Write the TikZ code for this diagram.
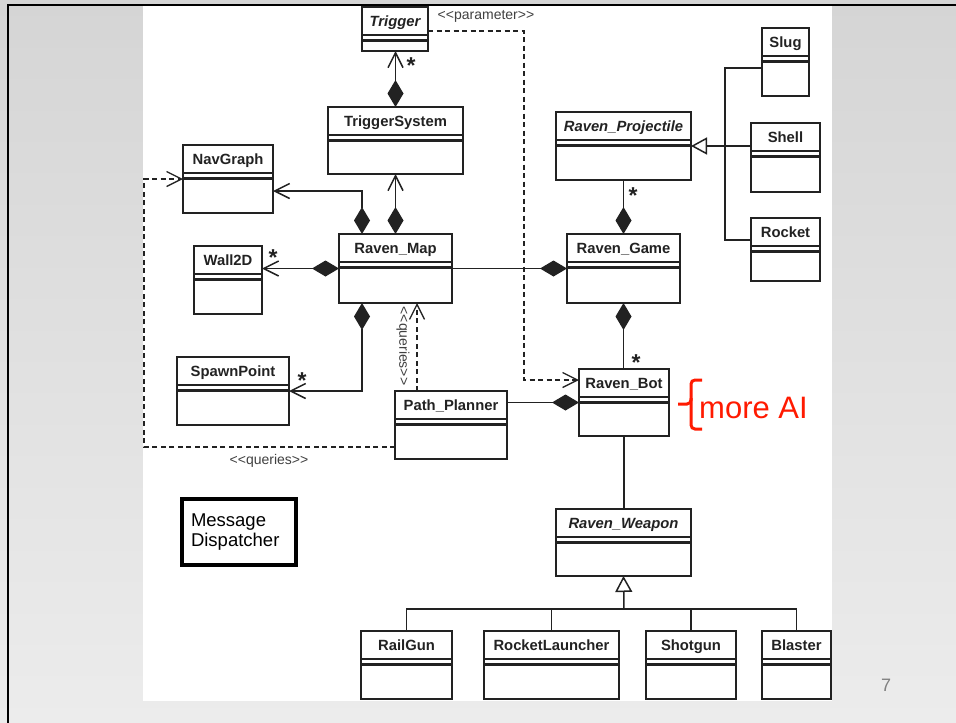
\documentclass[tikz,border=0pt]{standalone}
\usepackage{fontspec}
\setmainfont{Liberation Sans}
\usetikzlibrary{arrows.meta}

\definecolor{ink}{HTML}{222222}
\definecolor{notegray}{HTML}{404040}
\definecolor{bgtop}{HTML}{D5D5D5}
\definecolor{bgbot}{HTML}{ECECEC}
\definecolor{aired}{HTML}{FF1A00}

\begin{document}
\begin{tikzpicture}[x=1pt, y=-1pt,
    cls/.style = {draw=ink, line width=2.4pt, fill=white, anchor=north west, inner sep=0pt, outer sep=0pt,
        path picture={
            \draw[ink, line width=2.2pt] ([yshift=-28pt]path picture bounding box.north west) -- ([yshift=-28pt]path picture bounding box.north east);
            \draw[ink, line width=2.2pt] ([yshift=-33.5pt]path picture bounding box.north west) -- ([yshift=-33.5pt]path picture bounding box.north east);}},
    clsname/.style = {anchor=north, inner sep=0pt, minimum height=28pt, text height=12pt, text depth=2pt, text=ink, font=\bfseries\fontsize{14.8}{16}\selectfont},
    clsiname/.style = {clsname, font=\bfseries\itshape\fontsize{14.8}{16}\selectfont},
    line/.style = {draw=ink, line width=1.5pt},
    comp/.style = {line, arrows={Diamond[length=27pt,width=16pt]-Straight Barb[length=15pt,width=15pt]}},
    agg/.style = {line, arrows={Diamond[length=27pt,width=16pt]-}},
    gen/.style = {line, arrows={-Triangle[open,length=16pt,width=17pt,fill=white]}},
    dep/.style = {line, line width=1.3pt, dash pattern=on 5pt off 3.5pt, arrows={-Straight Barb[length=15pt,width=15pt]}},
    note/.style = {inner sep=0pt, text=notegray, font=\fontsize{14}{15}\selectfont},
    mult/.style = {inner sep=0pt, text=ink, font=\bfseries\fontsize{23}{23}\selectfont}]

    \useasboundingbox (0,0) rectangle (956,723);
    \shade[top color=bgtop, bottom color=bgbot] (0,0) rectangle (956,723);
    \fill[white] (143,6) rectangle (832,701);
    \draw[line width=2.5pt] (8,723) -- (8,5) -- (956,5);

    \node[cls, minimum width=66pt, minimum height=44pt] (trig) at (362,7) {};
    \node[clsiname] (trig-t) at (trig.north) {Trigger};
    \node[cls, minimum width=135pt, minimum height=67pt] (tsys) at (328,107) {};
    \node[clsname] (tsys-t) at (tsys.north) {TriggerSystem};
    \node[cls, minimum width=90pt, minimum height=68pt] (nav) at (183,145) {};
    \node[clsname] (nav-t) at (nav.north) {NavGraph};
    \node[cls, minimum width=68pt, minimum height=68pt] (wall) at (194,246) {};
    \node[clsname] (wall-t) at (wall.north) {Wall2D};
    \node[cls, minimum width=113pt, minimum height=69pt] (map) at (339,234) {};
    \node[clsname] (map-t) at (map.north) {Raven\_Map};
    \node[cls, minimum width=112pt, minimum height=68pt] (spawn) at (177,357) {};
    \node[clsname] (spawn-t) at (spawn.north) {SpawnPoint};
    \node[cls, minimum width=112pt, minimum height=68pt] (plan) at (395,391) {};
    \node[clsname] (plan-t) at (plan.north) {Path\_Planner};

    \node[cls, minimum width=47pt, minimum height=68pt] (slug) at (762,28) {};
    \node[clsname] (slug-t) at (slug.north) {Slug};
    \node[cls, minimum width=135pt, minimum height=68pt] (proj) at (556,112) {};
    \node[clsiname] (proj-t) at (proj.north) {Raven\_Projectile};
    \node[cls, minimum width=69pt, minimum height=69pt] (shell) at (751,123) {};
    \node[clsname] (shell-t) at (shell.north) {Shell};
    \node[cls, minimum width=69pt, minimum height=63pt] (rock) at (751,218) {};
    \node[clsname] (rock-t) at (rock.north) {Rocket};
    \node[cls, minimum width=113pt, minimum height=69pt] (game) at (567,234) {};
    \node[clsname] (game-t) at (game.north) {Raven\_Game};
    \node[cls, minimum width=90pt, minimum height=67pt] (bot) at (579,369) {};
    \node[clsname] (bot-t) at (bot.north) {Raven\_Bot};
    \node[cls, minimum width=135pt, minimum height=67pt] (weap) at (556,509) {};
    \node[clsiname] (weap-t) at (weap.north) {Raven\_Weapon};

    \node[cls, minimum width=91pt, minimum height=68pt] (rail) at (361,631) {};
    \node[clsname] (rail-t) at (rail.north) {RailGun};
    \node[cls, minimum width=135pt, minimum height=68pt] (launch) at (484,631) {};
    \node[clsname] (launch-t) at (launch.north) {RocketLauncher};
    \node[cls, minimum width=90pt, minimum height=68pt] (shot) at (646,631) {};
    \node[clsname] (shot-t) at (shot.north) {Shotgun};
    \node[cls, minimum width=69pt, minimum height=68pt] (blast) at (762,631) {};
    \node[clsname] (blast-t) at (blast.north) {Blaster};

    \node[draw=black, line width=3.5pt, fill=white, anchor=north west, outer sep=0pt, inner xsep=9pt,
        minimum width=114pt, minimum height=66pt, text width=96pt, align=left,
        font=\fontsize{18.5}{20}\selectfont] (msg) at (182,499) {Message\\Dispatcher};

    \draw[comp] (tsys.north) -- (tsys.north |- trig.south);
    \draw[comp] (map.north) -- (tsys.south);
    \draw[comp] ([xshift=23pt]map.north west) |- ([yshift=-12pt]nav.east);
    \draw[comp] (map.west) -- (map.west -| wall.east);
    \draw[comp] ([xshift=23pt]map.south west) |- (spawn.east);

    \draw[agg] (game.west) -- (map.east);
    \draw[agg] (game.north) -- (proj.south);
    \draw[agg] (game.south) -- (game.south |- bot.north);
    \draw[agg] (bot.west) -- (bot.west -| plan.east);
    \draw[line] (bot.south) -- (bot.south |- weap.north);

    \coordinate (pjoin) at (725,146);
    \draw[gen] (pjoin) -- (proj.east);
    \draw[line] (shell.west |- pjoin) -- (pjoin);
    \draw[line] ([yshift=-6pt]slug.west) -| (pjoin);
    \draw[line] ([yshift=9.5pt]rock.west) -| (pjoin);

    \coordinate (wjoin) at (624,609);
    \draw[gen] (wjoin) -- (weap.south);
    \draw[line] (rail.north) |- (wjoin) -| (blast.north);
    \draw[line] (launch.north) -- (launch.north |- wjoin);
    \draw[line] (shot.north) -- (shot.north |- wjoin);

    \coordinate (pbend) at (524,380);
    \draw[dep] ([yshift=-2pt]trig.east) -| (pbend) -- (pbend -| bot.west);
    \draw[dep] ([xshift=-34pt]plan.north) -- ([xshift=-34pt]plan.north |- map.south);
    \coordinate (qcorner) at (144,447);
    \draw[dep] ([yshift=-22pt]plan.west) -- (qcorner) |- (nav.west);

    \node[note] (lparam) at (486,16) {<\kern0pt<parameter>\kern0pt>};
    \node[note, rotate=-90] (lquery) at (403,346) {<\kern0pt<queries>\kern0pt>};
    \node[note] (lquery2) at (269,461) {<\kern0pt<queries>\kern0pt>};

    \node[mult] (m1) at (411,66) {*};
    \node[mult] (m2) at (273,258) {*};
    \node[mult] (m3) at (302,381) {*};
    \node[mult] (m4) at (633,196) {*};
    \node[mult] (m5) at (636,363) {*};

    \draw[aired, line width=3pt, rounded corners=4pt] (702,380) -- (691,380) -- (691,404) -- (678,404);
    \draw[aired, line width=3pt, rounded corners=4pt] (691,398) -- (691,429) -- (702,429);
    \node[anchor=base west, inner sep=0pt, text=aired, font=\fontsize{31}{31}\selectfont] (moreai) at (699,418) {more AI};

    \node[text=gray, font=\fontsize{18}{18}\selectfont] (pagenum) at (886,685) {7};

\end{tikzpicture}
\end{document}
